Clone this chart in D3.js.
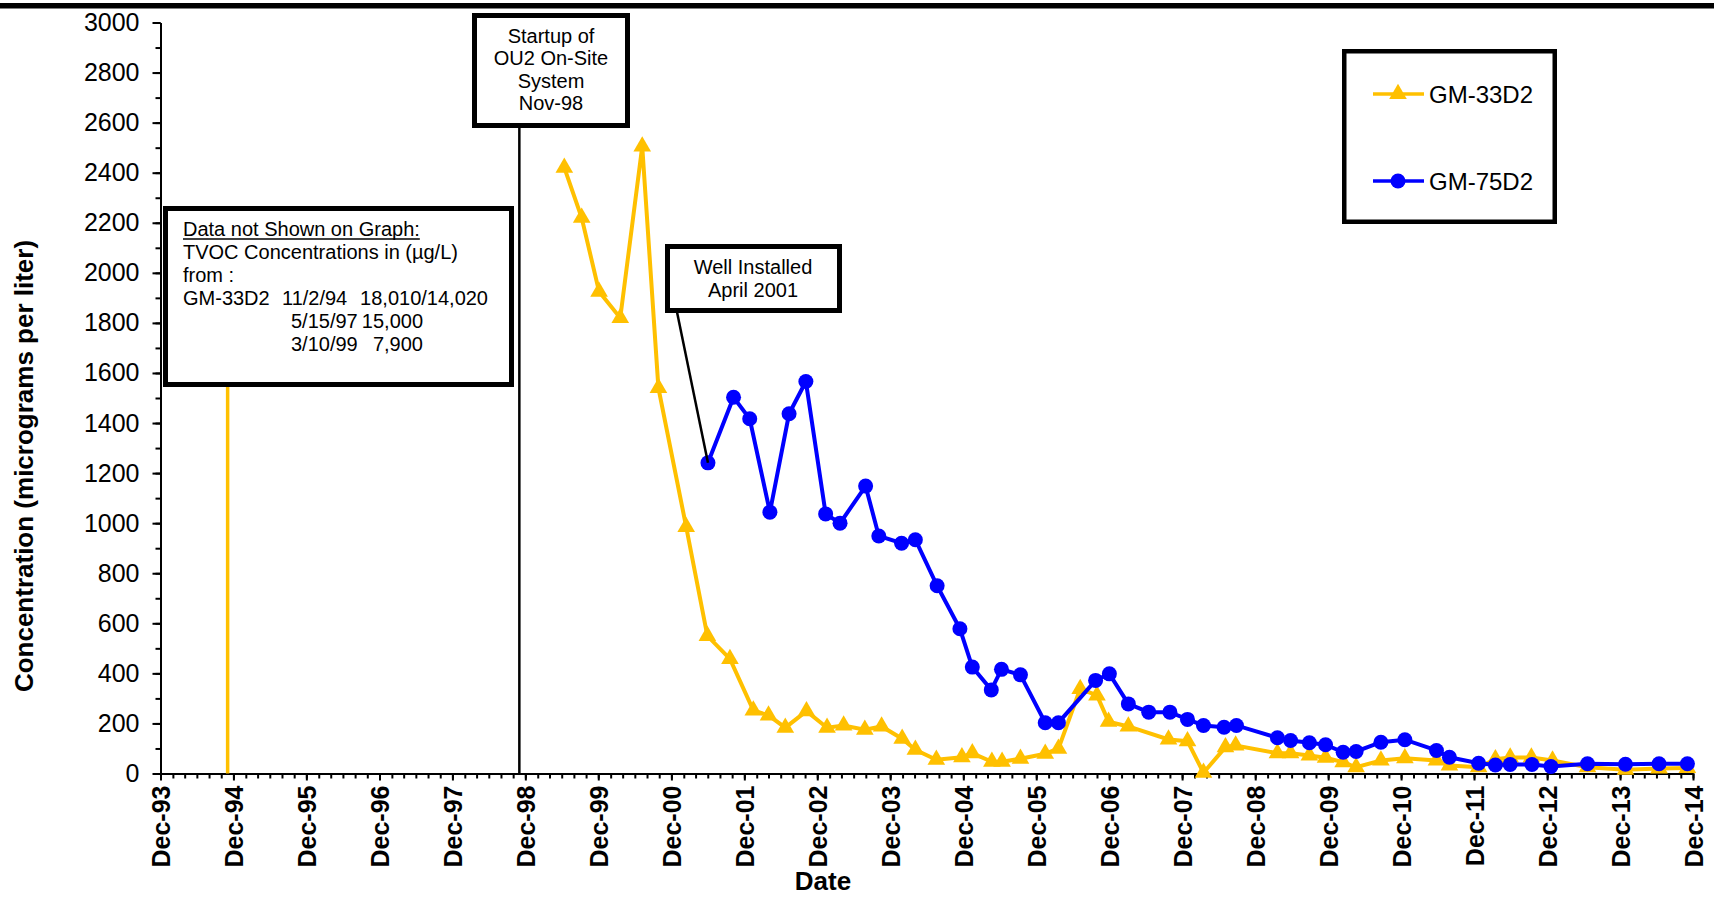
<!DOCTYPE html>
<html>
<head>
<meta charset="utf-8">
<script src="https://cdn.jsdelivr.net/npm/d3@7"></script>
<style>
  body { margin: 0; background: #fff; }
  text { font-family: "Liberation Sans", Arial, sans-serif; fill: #000; }
</style>
</head>
<body>
<svg id="chart" width="1714" height="899"></svg>
<script>
const width = 1714
const height = 899

// data
const seriesNames = ["GM-33D2", "GM-75D2"]
const seriesColors = ["#FFC000", "#0000FF"]

const gm33Dates = ["1999-06-14","1999-09-09","1999-12-05","2000-03-20","2000-07-08","2000-09-27","2001-02-13","2001-05-30",
  "2001-09-20","2002-01-15","2002-04-01","2002-06-24","2002-10-08","2003-01-19","2003-04-12","2003-07-27","2003-10-19",
  "2004-01-30","2004-04-05","2004-07-19","2004-11-24","2005-01-15","2005-04-23","2005-06-13","2005-09-13","2006-01-15",
  "2006-03-22","2006-07-09","2006-10-01","2006-11-28","2007-03-07","2007-09-24","2007-12-28","2008-03-17","2008-07-05",
  "2008-08-25","2009-03-22","2009-05-27","2009-08-29","2009-11-18","2010-02-14","2010-04-20","2010-08-22","2010-12-20",
  "2011-05-27","2011-07-31","2011-12-24","2012-03-17","2012-05-30","2012-09-13","2012-12-28","2013-06-21","2013-12-28",
  "2014-06-14","2014-11-03"]
const gm33Values = [2420,2220,1925,1820,2505,1540,985,550,
  458,252,232,183,249,183,192,175,188,
  139,95,55,65,81,47,47,59,79,
  99,338,312,207,188,136,129,3,105,
  112,81,81,72,63,45,25,52,61,
  52,32,25,57,64,64,52,25,15,
  20,22]

const gm75Dates = ["2001-06-02","2001-10-08","2001-12-28","2002-04-08","2002-07-13","2002-10-05","2003-01-12","2003-03-25",
  "2003-07-31","2003-10-05","2004-01-27","2004-04-05","2004-07-23","2004-11-14","2005-01-15","2005-04-20","2005-06-10",
  "2005-09-13","2006-01-15","2006-03-22","2006-09-24","2006-12-02","2007-03-07","2007-06-17","2007-10-01","2007-12-28",
  "2008-03-17","2008-06-28","2008-08-29","2009-03-22","2009-05-27","2009-08-29","2009-11-18","2010-02-14","2010-04-20",
  "2010-08-22","2010-12-20","2011-05-27","2011-07-31","2011-12-24","2012-03-17","2012-05-30","2012-09-16","2012-12-20",
  "2013-06-21","2013-12-28","2014-06-14","2014-11-03"]
const gm75Values = [1241,1503,1417,1044,1437,1566,1037,1000,
  1148,949,920,934,750,578,425,334,416,
  394,203,203,372,398,278,245,245,216,
  192,185,192,143,132,123,115,85,88,
  125,135,92,65,41,34,36,36,28,
  39,37,39,39]

const yTicks = d3.range(0, 3001, 200)
const yMinorTicks = d3.range(0, 3001, 100)
const xStart = "1993-12-01"
const xEnd = "2014-12-01"

const startupDate = "1998-11-01"
const startupText = ["Startup of", "OU2 On-Site", "System", "Nov-98"]
const wellText = ["Well Installed", "April 2001"]
const notShownDate = "1994-11-02"

const parse = d3.timeParse("%Y-%m-%d")

const svg = d3.select("#chart")

const x = d3.scaleTime()
  .domain([parse(xStart), parse(xEnd)])
  .range([160.5, 1693])
const y = d3.scaleLinear()
  .domain([0, 3000])
  .range([773.5, 22.5])

// top rule
svg.append("rect")
  .attr("x", 0).attr("y", 3)
  .attr("width", width).attr("height", 5.5)
  .attr("fill", "#000")

// y axis
const yAxis = svg.append("g")
  .attr("transform", `translate(${x.range()[0]},0)`)
  .call(d3.axisLeft(y).tickValues(yTicks).tickSize(8).tickSizeOuter(0).tickPadding(13).tickFormat(d3.format("d")))
yAxis.select(".domain").attr("stroke-width", 2)
yAxis.selectAll(".tick line").attr("stroke-width", 2)
yAxis.selectAll("text").style("font-size", "25px")

svg.append("g")
  .attr("transform", `translate(${x.range()[0]},0)`)
  .call(d3.axisLeft(y).tickValues(yMinorTicks).tickSize(5).tickFormat(""))
  .call(g => g.select(".domain").remove())
  .selectAll(".tick line").attr("stroke-width", 2)

// x axis
const majorDates = d3.timeYear.range(new Date(1993, 0, 1), new Date(2015, 0, 1)).map(d => new Date(d.getFullYear(), 11, 1))
const minorDates = d3.timeMonth.range(parse(xStart), new Date(2014, 11, 2), 2)

svg.append("g")
  .attr("transform", `translate(0,${y(0)})`)
  .call(d3.axisBottom(x).tickValues(minorDates).tickSize(5).tickFormat(""))
  .call(g => g.select(".domain").remove())
  .selectAll(".tick line").attr("stroke-width", 2)

const xAxis = svg.append("g")
  .attr("transform", `translate(0,${y(0)})`)
  .call(d3.axisBottom(x).tickValues(majorDates).tickSize(7).tickSizeOuter(0).tickFormat(d3.timeFormat("Dec-%y")))
xAxis.select(".domain").attr("stroke-width", 2)
xAxis.selectAll(".tick line").attr("stroke-width", 2)
xAxis.selectAll("text")
  .style("font-size", "25px")
  .style("font-weight", "bold")
  .attr("text-anchor", "end")
  .attr("transform", "rotate(-90)")
  .attr("x", -12)
  .attr("y", 0)
  .attr("dy", "0.36em")

// axis titles
svg.append("text")
  .attr("x", 823).attr("y", 890)
  .attr("text-anchor", "middle")
  .style("font-size", "26px").style("font-weight", "bold")
  .text("Date")

svg.append("text")
  .attr("transform", "translate(33,466) rotate(-90)")
  .attr("text-anchor", "middle")
  .style("font-size", "26px").style("font-weight", "bold")
  .text("Concentration (micrograms per liter)")

// startup marker line
svg.append("line")
  .attr("x1", x(parse(startupDate))).attr("x2", x(parse(startupDate)))
  .attr("y1", 126).attr("y2", y(0))
  .attr("stroke", "#000").attr("stroke-width", 2.5)

// data not shown line (GM-33D2 11/2/94)
svg.append("line")
  .attr("x1", x(parse(notShownDate))).attr("x2", x(parse(notShownDate)))
  .attr("y1", 384).attr("y2", y(0))
  .attr("stroke", seriesColors[0]).attr("stroke-width", 3.5)

// series
const data33 = gm33Dates.map((d, i) => ({date: parse(d), value: gm33Values[i]}))
const data75 = gm75Dates.map((d, i) => ({date: parse(d), value: gm75Values[i]}))

const line = d3.line().x(d => x(d.date)).y(d => y(d.value))
const triangle = d3.symbol().type(d3.symbolTriangle).size(135)

svg.append("path")
  .datum(data33)
  .attr("d", line)
  .attr("fill", "none")
  .attr("stroke", seriesColors[0])
  .attr("stroke-width", 4)
svg.selectAll(".tri")
  .data(data33)
  .enter()
  .append("path")
  .attr("class", "tri")
  .attr("d", triangle)
  .attr("transform", d => `translate(${x(d.date)},${y(d.value)})`)
  .attr("fill", seriesColors[0])

svg.append("path")
  .datum(data75)
  .attr("d", line)
  .attr("fill", "none")
  .attr("stroke", seriesColors[1])
  .attr("stroke-width", 4)
svg.selectAll(".dot")
  .data(data75)
  .enter()
  .append("circle")
  .attr("class", "dot")
  .attr("cx", d => x(d.date))
  .attr("cy", d => y(d.value))
  .attr("r", 7.5)
  .attr("fill", seriesColors[1])

// well installed leader
svg.append("line")
  .attr("x1", 677).attr("y1", 312)
  .attr("x2", x(data75[0].date)).attr("y2", y(data75[0].value))
  .attr("stroke", "#000").attr("stroke-width", 2.5)

function box(x0, y0, x1, y1, sw) {
  svg.append("rect")
    .attr("x", x0 + sw / 2).attr("y", y0 + sw / 2)
    .attr("width", x1 - x0 - sw).attr("height", y1 - y0 - sw)
    .attr("fill", "#fff")
    .attr("stroke", "#000")
    .attr("stroke-width", sw)
}

// startup box
box(472, 13, 630, 128, 5)
svg.append("g").selectAll("text")
  .data(startupText)
  .enter()
  .append("text")
  .attr("x", 551)
  .attr("y", (d, i) => 42.5 + i * 22.5)
  .attr("text-anchor", "middle")
  .style("font-size", "20px")
  .text(d => d)

// data not shown box
box(163, 206, 514, 387, 5)
const note = svg.append("g").style("font-size", "20px")
const noteTitle = note.append("text").attr("x", 183).attr("y", 236).text("Data not Shown on Graph:")
note.append("line")
  .attr("x1", 183).attr("x2", 183 + noteTitle.node().getComputedTextLength())
  .attr("y1", 239).attr("y2", 239)
  .attr("stroke", "#000").attr("stroke-width", 1.5)
note.append("text").attr("x", 183).attr("y", 259).text("TVOC Concentrations in (µg/L)")
note.append("text").attr("x", 183).attr("y", 282).text("from :")
note.append("text").attr("x", 183).attr("y", 305).text("GM-33D2")
note.append("text").attr("x", 282).attr("y", 305).text("11/2/94")
note.append("text").attr("x", 488).attr("y", 305).attr("text-anchor", "end").text("18,010/14,020")
note.append("text").attr("x", 291).attr("y", 328).text("5/15/97")
note.append("text").attr("x", 423).attr("y", 328).attr("text-anchor", "end").text("15,000")
note.append("text").attr("x", 291).attr("y", 351).text("3/10/99")
note.append("text").attr("x", 423).attr("y", 351).attr("text-anchor", "end").text("7,900")

// well installed box
box(665, 244, 842, 313, 5)
svg.append("g").selectAll("text")
  .data(wellText)
  .enter()
  .append("text")
  .attr("x", 753)
  .attr("y", (d, i) => 274 + i * 23)
  .attr("text-anchor", "middle")
  .style("font-size", "20px")
  .text(d => d)

// legend
box(1342, 49, 1557, 224, 4.5)
const legendY = [94, 181]
seriesNames.forEach((name, i) => {
  const g = svg.append("g")
  g.append("line")
    .attr("x1", 1373).attr("x2", 1424)
    .attr("y1", legendY[i]).attr("y2", legendY[i])
    .attr("stroke", seriesColors[i]).attr("stroke-width", 3.5)
  if (i == 0) {
    g.append("path")
      .attr("d", triangle)
      .attr("transform", `translate(1398,${legendY[i]})`)
      .attr("fill", seriesColors[i])
  } else {
    g.append("circle")
      .attr("cx", 1398).attr("cy", legendY[i]).attr("r", 7.5)
      .attr("fill", seriesColors[i])
  }
  g.append("text")
    .attr("x", 1429).attr("y", legendY[i] + 8.5)
    .style("font-size", "24px")
    .text(name)
})
</script>
</body>
</html>
